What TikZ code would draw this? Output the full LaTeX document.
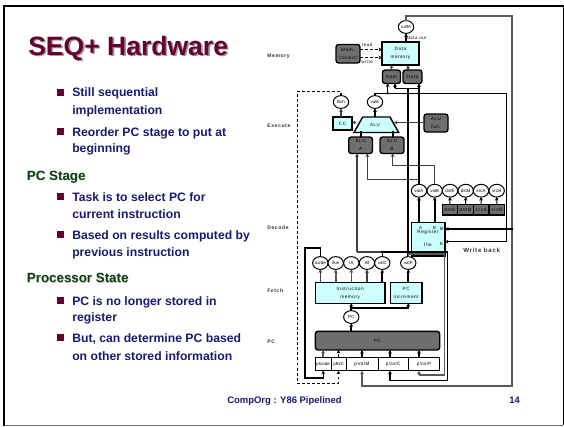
\documentclass[tikz,border=0pt]{standalone}
\usepackage{fontspec}
\setmainfont{Liberation Sans}
\newfontfamily\tinyfont[LetterSpace=12]{Liberation Sans}
\newfontfamily\tightfont[LetterSpace=2]{Liberation Sans}
\usetikzlibrary{arrows.meta,shapes.geometric,calc}
\definecolor{cellcyan}{HTML}{CCFFFF}
\definecolor{cellgray}{HTML}{6E6E6E}
\definecolor{titlecol}{HTML}{660033}
\definecolor{navy}{HTML}{1A1A70}
\definecolor{heading}{HTML}{0F3F0F}
\tikzset{
  pxl/.style={line width=#1*0.75pt},
  box/.style={draw=black,pxl=1.4,inner sep=0pt,outer sep=0pt,align=center,font=\tinyfont\fontsize{3.5pt}{6pt}\selectfont},
  cyanbox/.style={box,fill=cellcyan,pxl=1.5},
  graybox/.style={box,fill=cellgray,rounded corners=2pt},
  grayreg/.style={box,fill=cellgray},
  plain/.style={box,fill=white,pxl=1},
  oval/.style={draw=black,pxl=1,fill=white,ellipse,inner sep=0pt,outer sep=0pt,minimum width=11.5pt,minimum height=9.6pt,font=\tightfont\fontsize{3.3pt}{4pt}\selectfont},
  wire/.style={draw=black,pxl=1},
  midwire/.style={draw=black!75,pxl=1.3},
  fat/.style={draw=black,pxl=2.2},
  graywire/.style={draw=black!65,pxl=1.6},
  dashwire/.style={draw=black,pxl=1.2,dash pattern=on 2.2pt off 1.6pt},
  arr/.style={-{Stealth[length=2.6pt,width=2.8pt]}},
  dot/.style={circle,fill=black,inner sep=0pt,minimum size=2pt},
  lab/.style={inner sep=0pt,font=\tinyfont\fontsize{3.3pt}{4pt}\selectfont},
  stage/.style={inner sep=0pt,anchor=west,font=\tinyfont\bfseries\fontsize{3.8pt}{4pt}\selectfont,text=black!80},
  bullettext/.style={anchor=north west,inner sep=0pt,align=left,text=navy},
  sq/.style={fill=titlecol,inner sep=0pt,minimum size=5pt},
  headtext/.style={anchor=base west,inner sep=0pt,font=\bfseries\fontsize{10pt}{12pt}\selectfont},
  foot/.style={anchor=base west,inner sep=0pt,text=navy,font=\bfseries\fontsize{7.1pt}{9pt}\selectfont},
}
% style, name, x1, y1, x2, y2, text
\newcommand\cellbox[7]{\node[#1,minimum width={(#5-#3)*0.75pt},minimum height={(#6-#4)*0.75pt}] (#2) at ({(#3+#5)/2},{(#4+#6)/2}) {#7};}
% name, baseline of first line, line skip in pt, text
\newcommand\bulletitem[4]{%
  \node[sq] (#1sq) at (60.7,#2-4.3) {};
  \node[bullettext,font=\bfseries\fontsize{9.15pt}{#3}\selectfont] (#1) at (72,#2-12.67) {\rule{0pt}{9.5pt}#4};}
\begin{document}
\begin{tikzpicture}[x=0.75pt,y=-0.75pt]
\useasboundingbox (0,0) rectangle (564,426);
\fill[white] (0,0) rectangle (564,426);
% slide frame
\draw[black!55,pxl=1] (3,425) -- (563,425);
\draw[black,pxl=1] (563,6) -- (563,425);
\draw[black,pxl=2] (3.5,426) -- (3.5,6.3) -- (563.5,6.3);
% title
\node[anchor=base west,inner sep=0pt,text=black!38,font=\bfseries\fontsize{19.9pt}{22pt}\selectfont] (titleshadow) at (29.6,56.4) {SEQ+ Hardware};
\node[anchor=base west,inner sep=0pt,text=titlecol,font=\bfseries\fontsize{19.9pt}{22pt}\selectfont] (title) at (28,55) {SEQ+ Hardware};
% left text
\bulletitem{b1}{96.7}{13.5pt}{Still sequential\\implementation}
\bulletitem{b2}{136}{12pt}{Reorder PC stage to put at\\beginning}
\node[headtext,text=black!25] (h1s) at (27.2,180.6) {PC Stage};
\node[headtext,text=heading] (h1) at (26.7,180) {PC Stage};
\bulletitem{b3}{201}{12.75pt}{Task is to select PC for\\current instruction}
\bulletitem{b4}{239}{12.75pt}{Based on results computed by\\previous instruction}
\node[headtext,text=black!25] (h2s) at (27.2,283.3) {Processor State};
\node[headtext,text=heading] (h2) at (26.7,282.7) {Processor State};
\bulletitem{b5}{305}{12pt}{PC is no longer stored in\\register}
\bulletitem{b6}{342}{13.5pt}{But, can determine PC based\\on other stored information}
\node[foot] (footl) at (227,403) {CompOrg : Y86 Pipelined};
\node[foot] (footr) at (509,403) {14};
% stage labels
\node[stage] (sMem) at (267,56) {Memory};
\node[stage] (sExe) at (267,126) {Execute};
\node[stage] (sDec) at (267,228) {Decode};
\node[stage] (sFet) at (267,291) {Fetch};
\node[stage] (sPC) at (267,342) {PC};
\node[stage,font=\tinyfont\bfseries\fontsize{4.6pt}{5pt}\selectfont] (sWB) at (463,250) {Write back};
% routing points
\coordinate (memtop) at (512,16);
\coordinate (membot) at (512,386);
\coordinate (ebus) at (506.7,93.3);
\coordinate (ebusbot) at (506.7,241.7);
\coordinate (addrin) at (387.7,93.3);
\coordinate (dbusl) at (395,88.3);
\coordinate (dbusr) at (419,88.3);
\coordinate (vctop) at (382.3,252);
\coordinate (vcright) at (447.3,252);
\coordinate (vcbot) at (447.3,380.7);
\coordinate (vcin) at (390,380.7);
\coordinate (vptop) at (408.3,254);
\coordinate (vpright) at (444.6,254);
\coordinate (vpbot) at (444.6,375);
\coordinate (vpin) at (419,375);
\coordinate (alual) at (357,252);
\coordinate (aluam) at (367.3,179.3);
\coordinate (alubm) at (392.7,165.3);
\coordinate (icup) at (320.3,248);
\coordinate (icleft) at (305,248);
\coordinate (icbot) at (305,378);
\coordinate (dashtop) at (297.3,91.3);
\coordinate (dashbot) at (297.3,383.3);
\coordinate (pcbus) at (351.3,307.7);
% cells
\cellbox{cyanbox}{dmem}{382}{42}{419}{65}{Data\\memory}
\cellbox{graybox}{memctl}{336}{44.5}{360}{63}{Mem.\\control}
\cellbox{graybox}{addr}{382.5}{70}{400.5}{83.5}{Addr}
\cellbox{graybox}{data}{403}{70}{422}{83.5}{Data}
\cellbox{cyanbox}{cc}{333}{117}{352}{130}{CC}
\cellbox{graybox}{alufun}{424}{114}{448}{132}{ALU\\fun.}
\cellbox{graybox}{aluA}{348.7}{137}{372.5}{153.5}{ALU\\A}
\cellbox{graybox}{aluB}{380}{137}{404}{153.5}{ALU\\B}
\filldraw[fill=cellcyan,draw=black,pxl=1.4] (362.7,117) coordinate (alutl) -- (390,117) coordinate (alutr) -- (398.7,132.5) -- (354,132.5) -- cycle;
\node[lab] (alu) at (375,125) {ALU};
\cellbox{grayreg}{rdstE}{442.3}{204.3}{457.5}{215}{dstE}
\cellbox{grayreg}{rdstM}{457.5}{204.3}{473.5}{215}{dstM}
\cellbox{grayreg}{rsrcA}{473.5}{204.3}{489}{215}{srcA}
\cellbox{grayreg}{rsrcB}{489}{204.3}{504.7}{215}{srcB}
\cellbox{cyanbox}{reg}{411.7}{222.3}{445}{256}{}
\node[lab] (regA) at (420.7,228) {A};
\node[lab] (regB) at (434.7,228) {B};
\node[lab] (regM) at (441.6,229.3) {M};
\node[lab] (regE) at (441.6,244) {E};
\node[lab,align=center,font=\tinyfont\fontsize{3.5pt}{9.75pt}\selectfont] (regt) at (428,238.5) {Register\\file};
\cellbox{cyanbox}{imem}{315.3}{282.3}{385}{303.3}{Instruction\\memory}
\cellbox{cyanbox}{pcinc}{390.3}{282.3}{422}{303.3}{PC\\increment}
\cellbox{graybox}{pcbox}{315.3}{331.3}{439.7}{350}{PC}
\cellbox{plain,font=\tightfont\fontsize{3.3pt}{4pt}\selectfont}{plcode}{315.3}{357.3}{331}{370.7}{plcode}
\cellbox{plain,font=\tightfont\fontsize{3.3pt}{4pt}\selectfont}{pBch}{331}{357.3}{346}{370.7}{pBch}
\cellbox{plain}{pValM}{346}{357.3}{378}{370.7}{pValM}
\cellbox{plain}{pValC}{378}{357.3}{408.5}{370.7}{pValC}
\cellbox{plain}{pValP}{408.5}{357.3}{439.7}{370.7}{pValP}
% ovals
\node[oval] (valM) at (406,27) {valM};
\node[oval] (Bch) at (341,102) {Bch};
\node[oval] (valE) at (375,102) {valE};
\node[oval] (valA) at (419,190.7) {valA};
\node[oval] (valB) at (434.7,190.7) {valB};
\node[oval] (dstE) at (450,190.7) {dstE};
\node[oval] (dstM) at (465.7,190.7) {dstM};
\node[oval] (srcA) at (481,190.7) {srcA};
\node[oval] (srcB) at (496.7,190.7) {srcB};
\node[oval] (icode) at (320.3,263) {icode};
\node[oval] (ifun) at (335.7,263) {ifun};
\node[oval] (rA) at (351.3,263) {rA};
\node[oval] (rB) at (367,263) {rB};
\node[oval] (valC) at (382.3,263) {valC};
\node[oval] (valP) at (408.3,263) {valP};
\node[oval] (pcval) at (351.3,317) {PC};
% small labels
\node[lab] (lread) at (367,45) {read};
\node[lab] (lwrite) at (367,61.5) {write};
\node[lab] (ldout) at (417,37.5) {data out};
% connectors: memory
\draw[graywire,arr] (valM.north) |- (memtop) -- (membot) -| (pValM.south);
\draw[fat,arr] (dmem.north -| valM) -- (valM.south);
\draw[dashwire,arr] (memctl.east |- 0,49.5) -- (dmem.west |- 0,49.5);
\draw[dashwire,arr] (memctl.east |- 0,57.5) -- (dmem.west |- 0,57.5);
\draw[midwire,arr] (addr.north) -- (addr.north |- dmem.south);
\draw[midwire,arr] (data.north -| 408,0) -- (dmem.south -| 408,0);
% execute bus
\draw[wire,pxl=1.2] (valE.north) |- (ebus) -- (ebusbot);
\draw[wire,pxl=1.2,arr] (ebusbot) -- (reg.east |- ebusbot);
\draw[wire,pxl=1.2,arr] (addrin) -- (addr.south -| addrin);
\node[dot] (j1) at (addrin) {};
\draw[wire,pxl=1.2] (dbusr) -- (dbusl);
\draw[wire,pxl=1.2,arr] (dbusl) -- (addr.south -| dbusl);
\draw[fat] (valP.north) -- (valP.north |- dbusl);
\draw[fat,arr] (valA.north) -- (data.south -| valA);
\draw[fat,arr] (alu.north |- alutl) -- (valE.south);
\draw[midwire,arr] (Bch.south |- cc.north) -- (Bch.south);
\draw[midwire,arr] (356,122.5) -- (cc.east |- 0,122.5);
\draw[midwire,arr] (alufun.west |- 0,122.5) -- (394,122.5);
\draw[fat] (aluA.north) -- (aluA.north |- 0,131);
\draw[fat] (aluB.north -| 393,0) -- (393,131);
\draw[dashwire,arr] (Bch.north) |- (dashtop) -- (dashbot) -| (pBch.south);
% operand routes
\draw[midwire,arr] (alual) -- (aluA.south -| alual);
\draw[midwire] (alual) -- (vptop |- alual);
\draw[midwire,arr] (valA.north |- aluam) -| (aluA.south -| aluam);
\draw[midwire,arr] (valB.north) |- (alubm) -- (aluB.south -| alubm);
\draw[fat,arr] (reg.north -| valA) -- (valA.south);
\draw[fat,arr] (reg.north -| valB) -- (valB.south);
\draw[wire,arr] (rdstE.north) -- (dstE.south);
\draw[wire,arr] (rdstM.north) -- (dstM.south);
\draw[wire,arr] (rsrcA.north) -- (srcA.south);
\draw[wire,arr] (rsrcB.north) -- (srcB.south);
\draw[fat,arr] (memtop |- 0,229) coordinate (mjoin) -- (reg.east |- 0,229);
\node[dot] (j2) at (mjoin) {};
% fetch
\draw[midwire,arr] (imem.north -| icode) -- (icode.south);
\draw[graywire,arr] (imem.north -| ifun) -- (ifun.south);
\draw[graywire,arr] (imem.north -| rA) -- (rA.south);
\draw[midwire,arr] (imem.north -| rB) -- (rB.south);
\draw[fat,arr] (imem.north -| valC) -- (valC.south);
\draw[fat,arr] (pcinc.north -| valP) -- (valP.south);
\draw[fat,arr] (pcbox.north -| pcval) -- (pcval.south);
\draw[fat,arr] (pcval.north) -- (imem.south -| pcval);
\draw[fat,arr] (pcbus) -| (pcinc.south -| valP);
% feedback
\draw[wire,pxl=1.2] (valC.north) |- (vcright) -- (vcbot) -- (vcin);
\draw[wire,pxl=1.2,arr] (vcin) -- (pValC.south -| vcin);
\draw[graywire] (valP.north) |- (vpright) -- (vpbot) -- (vpin);
\draw[graywire,arr] (vpin) -- (pValP.south -| vpin);
\draw[wire,pxl=1.2,arr] (icode.north) |- (icleft) -- (icbot) -| (plcode.south);
\node[dot] (j3) at (valC.north |- alual) {};
\node[dot] (j4) at (valP.north |- alual) {};
% PC row
\draw[graywire,arr] (plcode.north) -- (pcbox.south -| plcode);
\draw[dashwire,arr] (pBch.north) -- (pcbox.south -| pBch);
\draw[fat,arr] (pValM.north) -- (pcbox.south -| pValM);
\draw[fat,arr] (pValC.north -| vcin) -- (pcbox.south -| vcin);
\draw[fat,arr] (pValP.north -| vpin) -- (pcbox.south -| vpin);
\end{tikzpicture}
\end{document}
